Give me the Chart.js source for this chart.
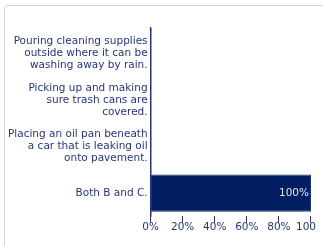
<!DOCTYPE html>
<html>
<head>
<meta charset="utf-8">
<script src="https://cdn.jsdelivr.net/npm/chart.js@4/dist/chart.umd.min.js"></script>
<style>
    html, body { margin: 0; padding: 0; background: #fff; overflow: hidden; }
    .frame {
        position: absolute; left: 4px; top: 5px; width: 400px; height: 400px;
        border: 1.5px solid #d2d3d8; border-radius: 4px;
    }
    .clip { position: absolute; left: 0; top: 0; width: 316px; height: 246px; overflow: hidden; }
    .holder { position: absolute; left: 0; top: 0; width: 325px; height: 246px; }
</style>
</head>
<body>
<div class="frame"></div>
<div class="clip">
    <div class="holder"><canvas id="chart"></canvas></div>
</div>
<script>
// Answer options, one per bar
const categories = [
    ["Pouring cleaning supplies", "outside where it can be", "washing away by rain."],
    ["Picking up and making", "sure trash cans are", "covered."],
    ["Placing an oil pan beneath", "a car that is leaking oil", "onto pavement."],
    "Both B and C."
];
// Share of responses, percent
const values = [0, 0, 0, 100];
const tickValues = [0, 20, 40, 60, 80, 100];

const navy = '#26357a';
const fontFamily = 'DejaVu Sans';

// Draw the percent label inside the bar, right aligned,
// and let the y axis line run a bit above the plot
const barLabels = {
    id: 'barLabels',
    afterDatasetsDraw(chart) {
        const ctx = chart.ctx;
        const meta = chart.getDatasetMeta(0);
        const area = chart.chartArea;
        ctx.save();
        ctx.strokeStyle = navy;
        ctx.lineWidth = 1.5;
        ctx.beginPath();
        ctx.moveTo(area.left, area.top - 3);
        ctx.lineTo(area.left, area.top + 1);
        ctx.stroke();

        ctx.font = '10.5px "' + fontFamily + '"';
        ctx.fillStyle = '#e4e5ec';
        ctx.textAlign = 'right';
        ctx.textBaseline = 'middle';
        meta.data.forEach((bar, i) => {
            if (values[i] > 0) {
                ctx.fillText(values[i] + '%', bar.x - 2, bar.y);
            }
        });
        ctx.restore();
    }
};

new Chart(document.getElementById('chart'), {
    type: 'bar',
    data: {
        labels: categories,
        datasets: [{
            data: values,
            backgroundColor: '#021e62',
            borderColor: '#1c3372',
            borderWidth: 1,
            barPercentage: 0.8,
            categoryPercentage: 1
        }]
    },
    options: {
        indexAxis: 'y',
        responsive: true,
        maintainAspectRatio: false,
        animation: false,
        layout: { padding: { left: 5, top: 30, bottom: 13, right: 0 } },
        plugins: { legend: { display: false }, tooltip: { enabled: false } },
        scales: {
            x: {
                min: 0, max: 100,
                afterBuildTicks(scale) { scale.ticks = tickValues.map(v => ({ value: v })); },
                grid: { display: true, drawOnChartArea: false, drawTicks: true, tickLength: 6, color: navy, lineWidth: 1 },
                border: { display: false },
                ticks: {
                    color: navy, padding: -1, maxRotation: 0, minRotation: 0, autoSkip: false,
                    font: { family: fontFamily, size: 10.5 },
                    callback: v => v + '%'
                }
            },
            y: {
                grid: { display: false, drawTicks: false },
                border: { display: true, color: navy, width: 1.5 },
                ticks: {
                    color: navy, padding: 3,
                    font: { family: fontFamily, size: 10.5, lineHeight: 1.15 }
                }
            }
        }
    },
    plugins: [barLabels]
});
</script>
</body>
</html>
